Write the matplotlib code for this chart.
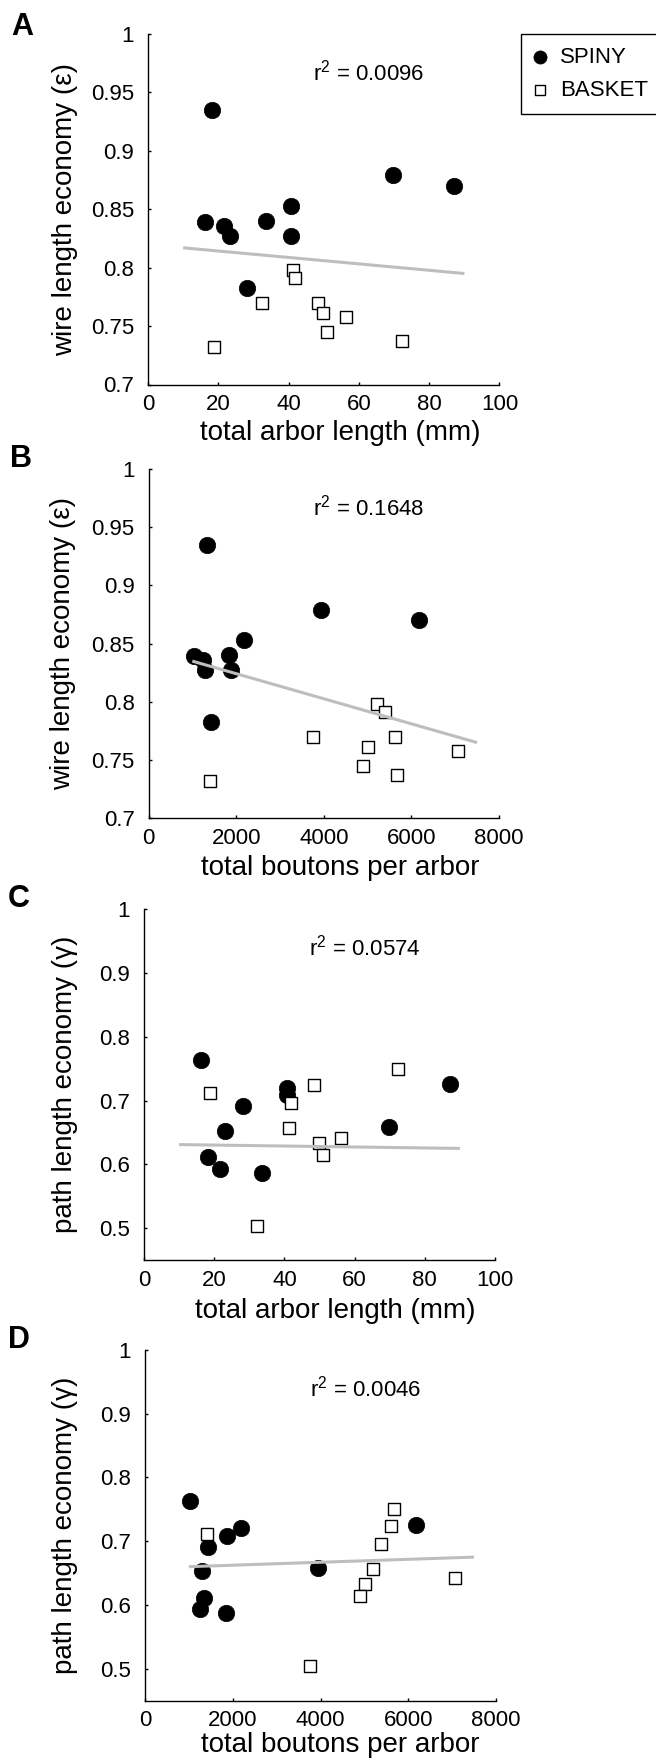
import numpy as np
import matplotlib
matplotlib.use("Agg")
import matplotlib.pyplot as plt

plt.rcParams['font.family'] = ['Liberation Sans', 'DejaVu Sans']
plt.rcParams['mathtext.fontset'] = 'custom'
plt.rcParams['mathtext.rm'] = 'Liberation Sans'
plt.rcParams['mathtext.it'] = 'Liberation Sans:italic'

# ---- per-cell measurements -------------------------------------------------
# spiny (excitatory) arbors
spiny_length = [16.3, 18.3, 21.7, 23.2, 28.3, 33.6, 40.6, 40.6, 69.7, 87.1]       # mm
spiny_boutons = [1030, 1340, 1250, 1288, 1425, 1840, 2180, 1873, 3948, 6184]
spiny_wire = [0.839, 0.935, 0.836, 0.827, 0.783, 0.840, 0.853, 0.827, 0.879, 0.870]
spiny_path = [0.763, 0.611, 0.593, 0.653, 0.691, 0.587, 0.720, 0.708, 0.658, 0.726]

# basket (inhibitory) arbors
basket_length = [18.7, 32.3, 41.2, 41.9, 48.5, 49.8, 51.0, 56.2, 72.3]             # mm
basket_boutons = [1402, 3756, 5205, 5388, 5616, 5016, 4892, 7070, 5678]
basket_wire = [0.732, 0.770, 0.798, 0.791, 0.770, 0.761, 0.745, 0.758, 0.737]
basket_path = [0.712, 0.504, 0.657, 0.696, 0.724, 0.633, 0.614, 0.642, 0.750]

# least-squares fit lines (end points) and their r^2
fit_length_x = [10, 90]
fit_boutons_x = [1000, 7500]
fit_A_y = [0.817, 0.795]
fit_B_y = [0.835, 0.765]
fit_C_y = [0.631, 0.625]
fit_D_y = [0.660, 0.675]
r2_values = ["0.0096", "0.1648", "0.0574", "0.0046"]

legend_labels = ["SPINY", "BASKET"]

# ---- figure ---------------------------------------------------------------
W, H = 656, 1761
fig = plt.figure(figsize=(W / 100, H / 100), dpi=100)


def rect(left, right, top, bottom):
    return [left / W, 1 - bottom / H, (right - left) / W, (bottom - top) / H]


TICK_FS = 16
LABEL_FS = 20

wire_label = "wire length economy (ε)"
path_label = "path length economy (γ)"
length_label = "total arbor length (mm)"
boutons_label = "total boutons per arbor"

panels = [
    dict(letter="A", box=(148, 499.5, 34, 384.5), letter_xy=(11, 35),
         xs=(spiny_length, basket_length), ys=(spiny_wire, basket_wire),
         fit_x=fit_length_x, fit_y=fit_A_y, r2=r2_values[0],
         xlim=(0, 100), xticks=np.arange(0, 101, 20),
         ylim=(0.7, 1.0), yticks=np.arange(0.7, 1.001, 0.05),
         xlabel=length_label, ylabel=wire_label,
         xlab_pos=(0.546, -0.138), ylab_pos=-0.236),
    dict(letter="B", box=(148.5, 499, 469, 818.3), letter_xy=(9.5, 467),
         xs=(spiny_boutons, basket_boutons), ys=(spiny_wire, basket_wire),
         fit_x=fit_boutons_x, fit_y=fit_B_y, r2=r2_values[1],
         xlim=(0, 8000), xticks=np.arange(0, 8001, 2000),
         ylim=(0.7, 1.0), yticks=np.arange(0.7, 1.001, 0.05),
         xlabel=boutons_label, ylabel=wire_label,
         xlab_pos=(0.546, -0.142), ylab_pos=-0.244),
    dict(letter="C", box=(144, 495, 909.3, 1260), letter_xy=(8, 907),
         xs=(spiny_length, basket_length), ys=(spiny_path, basket_path),
         fit_x=fit_length_x, fit_y=fit_C_y, r2=r2_values[2],
         xlim=(0, 100), xticks=np.arange(0, 101, 20),
         ylim=(0.45, 1.0), yticks=np.arange(0.5, 1.001, 0.1),
         xlabel=length_label, ylabel=path_label,
         xlab_pos=(0.544, -0.145), ylab_pos=-0.225),
    dict(letter="D", box=(145, 496, 1350, 1700.5), letter_xy=(7.5, 1348),
         xs=(spiny_boutons, basket_boutons), ys=(spiny_path, basket_path),
         fit_x=fit_boutons_x, fit_y=fit_D_y, r2=r2_values[3],
         xlim=(0, 8000), xticks=np.arange(0, 8001, 2000),
         ylim=(0.45, 1.0), yticks=np.arange(0.5, 1.001, 0.1),
         xlabel=boutons_label, ylabel=path_label,
         xlab_pos=(0.555, -0.127), ylab_pos=-0.228),
]

legend_handles = None
for p in panels:
    ax = fig.add_axes(rect(*p["box"]))
    sx, bx = p["xs"]
    sy, by = p["ys"]
    h_spiny = ax.scatter(sx, sy, s=140, marker="o", facecolor="black",
                         edgecolor="black", linewidths=0.5, zorder=3, clip_on=False)
    h_basket = ax.scatter(bx, by, s=82, marker="s", facecolor="white",
                          edgecolor="black", linewidths=1.0, zorder=4, clip_on=False)
    ax.plot(p["fit_x"], p["fit_y"], color="#bebebe", lw=2.2, zorder=5,
            solid_capstyle="butt")
    if legend_handles is None:
        legend_handles = [h_spiny, h_basket]

    ax.set_xlim(*p["xlim"])
    ax.set_ylim(*p["ylim"])
    ax.set_xticks(p["xticks"])
    ax.set_xticklabels([f"{v:g}" for v in p["xticks"]])
    ax.set_yticks(p["yticks"])
    ax.set_yticklabels([f"{round(v, 2):g}" for v in p["yticks"]])
    ax.tick_params(direction="in", length=2.5, width=1.0, labelsize=TICK_FS,
                   colors="black")
    ax.tick_params(axis="x", pad=7)
    ax.tick_params(axis="y", pad=10)
    for side in ("top", "right"):
        ax.spines[side].set_visible(False)
    for side in ("left", "bottom"):
        ax.spines[side].set_linewidth(1.0)
        ax.spines[side].set_color("black")

    ax.set_xlabel(p["xlabel"], fontsize=LABEL_FS, va="center")
    ax.xaxis.set_label_coords(*p["xlab_pos"])
    ax.set_ylabel(p["ylabel"], fontsize=LABEL_FS, va="center")
    ax.yaxis.set_label_coords(p["ylab_pos"], 0.5)

    ax.text(0.47, 0.89, r"r$\mathregular{^2}$ = " + p["r2"], transform=ax.transAxes,
            fontsize=16, ha="left", va="center")

    lx, ly = p["letter_xy"]
    fig.text(lx / W, 1 - ly / H, p["letter"], fontsize=22, fontweight="bold",
             ha="left", va="baseline")

fig.legend(legend_handles, legend_labels, loc="upper left",
           bbox_to_anchor=(521 / W, 1 - 34 / H, 0.3, 0.0), mode="expand",
           borderaxespad=0, fontsize=16, frameon=True, fancybox=False,
           framealpha=1, edgecolor="black", borderpad=0.57, handlelength=0.57,
           handletextpad=0.61, labelspacing=0.56, markerscale=0.8,
           scatterpoints=1)
fig.legends[0].get_frame().set_linewidth(1.0)

fig.savefig("out.png", dpi=100)
